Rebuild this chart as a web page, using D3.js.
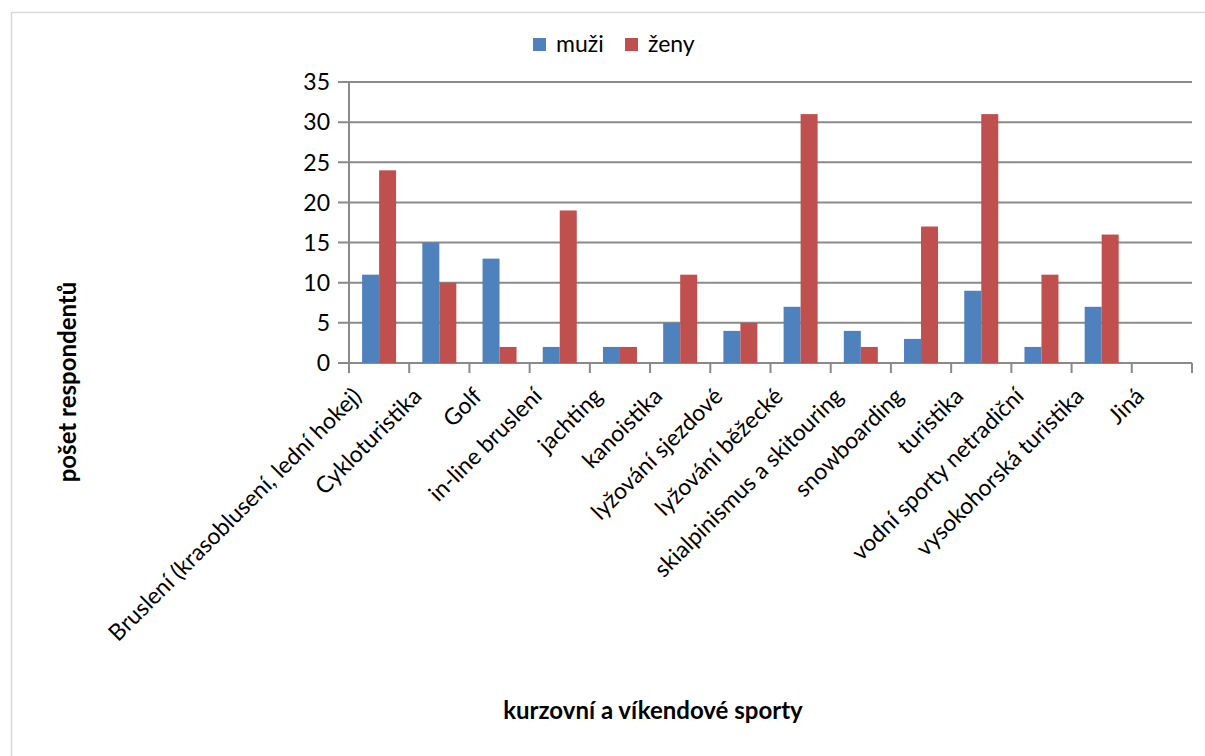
<!DOCTYPE html>
<html><head><meta charset="utf-8">
<script src="https://cdn.jsdelivr.net/npm/d3@7"></script>
<style>body{margin:0;background:#fff;} text{font-family:Lato,"Open Sans",sans-serif;}</style>
</head><body>
<svg id="c" width="1205" height="756"></svg>
<script>
const categories = ["Bruslení (krasoblusení, lední hokej)","Cykloturistika","Golf","in-line bruslení","jachting","kanoistika","lyžování sjezdové","lyžování běžecké","skialpinismus a skitouring","snowboarding","turistika","vodní sporty netradiční","vysokohorská turistika","Jiná"];
const muzi = [11,15,13,2,2,5,4,7,4,3,9,2,7,0];
const zeny = [24,10,2,19,2,11,5,31,2,17,31,11,16,0];
const seriesNames = ["muži","ženy"];
const colors = ["#4F81BD","#C0504D"];
const yTicks = [0,5,10,15,20,25,30,35];

const svg = d3.select("#c");
svg.append("path").attr("d","M11.5,756 L11.5,12.5 L1205,12.5").attr("fill","none").attr("stroke","#d9d9d9").attr("stroke-width",1.5);

const L=349, R=1192, T=82, B=363;
const x = d3.scaleBand().domain(categories).range([L,R]);
const y = d3.scaleLinear().domain([0,35]).range([B,T]);
const bw = 17;
const x1 = d3.scaleBand().domain(seriesNames).range([-bw, bw]);

svg.append("g").selectAll("line").data(yTicks).join("line")
  .attr("x1",L-11).attr("x2",R).attr("y1",d=>y(d)).attr("y2",d=>y(d))
  .attr("stroke","#8a8a8a").attr("stroke-width",2);
svg.append("line").attr("x1",L).attr("x2",L).attr("y1",T).attr("y2",B).attr("stroke","#8a8a8a").attr("stroke-width",2);
const bounds = categories.map(c=>x(c)).concat([R]);
svg.append("g").selectAll("line").data(bounds).join("line")
  .attr("x1",d=>d).attr("x2",d=>d).attr("y1",B).attr("y2",B+10)
  .attr("stroke","#8a8a8a").attr("stroke-width",2);
svg.append("g").selectAll("text").data(yTicks).join("text")
  .attr("x",L-19).attr("y",d=>y(d)).attr("dy","0.36em").attr("text-anchor","end")
  .attr("font-size",23).attr("fill","#000").text(d=>d);

[muzi,zeny].forEach((vals,si)=>{
  svg.append("g").selectAll("rect").data(vals).join("rect")
    .attr("x",(d,i)=>x(categories[i])+x.bandwidth()/2 + x1(seriesNames[si]))
    .attr("width",x1.bandwidth())
    .attr("y",d=>y(d)).attr("height",d=>B-y(d))
    .attr("fill",colors[si]);
});

svg.append("g").selectAll("text").data(categories).join("text")
  .attr("transform",d=>`translate(${x(d)+x.bandwidth()/2-22},${B+29}) rotate(-45)`)
  .attr("text-anchor","end").attr("dy","0.35em")
  .attr("font-size",23).attr("fill","#000").text(d=>d);

const lg = svg.append("g");
const lx=[533,625];
seriesNames.forEach((n,i)=>{
  lg.append("rect").attr("x",lx[i]).attr("y",38).attr("width",13).attr("height",13).attr("fill",colors[i]);
  lg.append("text").attr("x",lx[i]+23).attr("y",52).attr("font-size",23).attr("fill","#000").text(n);
});

svg.append("text").attr("transform","translate(76,382) rotate(-90)").attr("text-anchor","middle")
  .attr("font-size",24).attr("font-weight","bold").attr("fill","#000").text("pošet respondentů");
svg.append("text").attr("x",653).attr("y",719).attr("text-anchor","middle")
  .attr("font-size",24).attr("font-weight","bold").attr("fill","#000").text("kurzovní a víkendové sporty");
</script>
</body></html>
